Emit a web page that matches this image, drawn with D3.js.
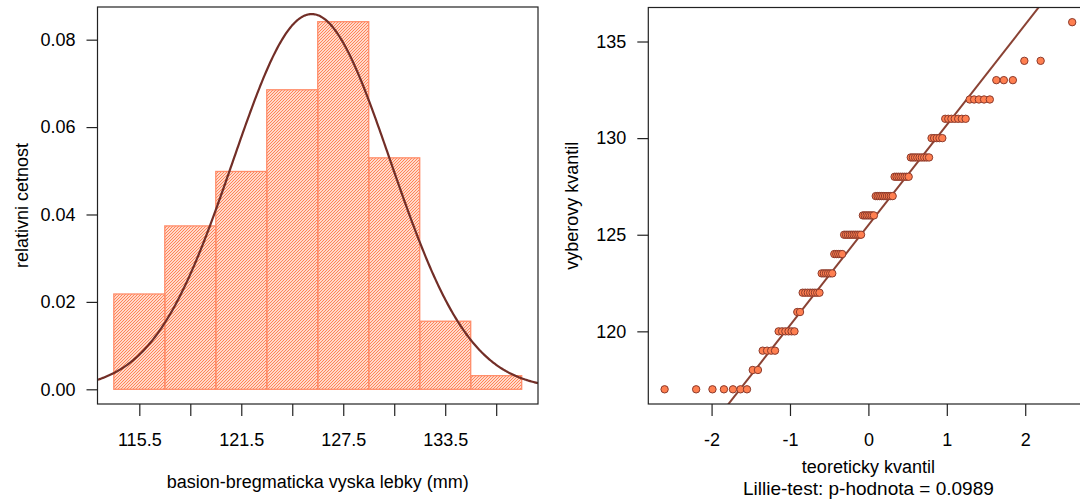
<!DOCTYPE html>
<html>
<head>
<meta charset="utf-8">
<script src="https://cdn.jsdelivr.net/npm/d3@7"></script>
<style>
  html, body { margin: 0; padding: 0; background: #ffffff; }
  svg { display: block; }
  text { font-family: "Liberation Sans", Arial, sans-serif; fill: #000; }
</style>
</head>
<body>
<svg id="chart" width="1080" height="499"></svg>
<script>
// ---------------- data ----------------
const skullValues = [117,118,119,120,121,122,123,124,125,126,127,128,129,130,131,132,133,134,135,136];
const skullCounts = [7,  2,  4,  6,  2,  8,  6,  5,  10, 7,  10, 8,  9,  5,  7,  5,  3,  2,  0,  1];
const histBreaks = [114,117,120,123,126,129,132,135,138];
const histTicks = [115.5,118.5,121.5,124.5,127.5,130.5,133.5,136.5];
const histTickLabels = ["115.5","","121.5","","127.5","","133.5",""];
const densityTicks = [0,0.02,0.04,0.06,0.08];
const qqXTicks = [-2,-1,0,1,2];
const qqYTicks = [120,125,130,135];
const histXLabel = "basion-bregmaticka vyska lebky (mm)";
const histYLabel = "relativni cetnost";
const qqXLabel = "teoreticky kvantil";
const qqYLabel = "vyberovy kvantil";
const qqSubLabel = "Lillie-test: p-hodnota = 0.0989";

// ---------------- helpers ----------------
const sample = [];
skullValues.forEach((v, i) => { for (let k = 0; k < skullCounts[i]; k++) sample.push(v); });
const n = sample.length;
const mean = d3.mean(sample);
const sd = d3.deviation(sample);

function qnorm(p) {
  const a = [-3.969683028665376e+01, 2.209460984245205e+02, -2.759285104469687e+02, 1.383577518672690e+02, -3.066479806614716e+01, 2.506628277459239e+00];
  const b = [-5.447609879822406e+01, 1.615858368580409e+02, -1.556989798598866e+02, 6.680131188771972e+01, -1.328068155288572e+01];
  const c = [-7.784894002430293e-03, -3.223964580411365e-01, -2.400758277161838e+00, -2.549732539343734e+00, 4.374664141464968e+00, 2.938163982698783e+00];
  const d = [7.784695709041462e-03, 3.224671290700398e-01, 2.445134137142996e+00, 3.754408661907416e+00];
  const pl = 0.02425, ph = 1 - pl;
  let q, r;
  if (p < pl) { q = Math.sqrt(-2 * Math.log(p)); return (((((c[0]*q+c[1])*q+c[2])*q+c[3])*q+c[4])*q+c[5]) / ((((d[0]*q+d[1])*q+d[2])*q+d[3])*q+1); }
  if (p <= ph) { q = p - 0.5; r = q*q; return (((((a[0]*r+a[1])*r+a[2])*r+a[3])*r+a[4])*r+a[5])*q / (((((b[0]*r+b[1])*r+b[2])*r+b[3])*r+b[4])*r+1); }
  q = Math.sqrt(-2 * Math.log(1 - p)); return -(((((c[0]*q+c[1])*q+c[2])*q+c[3])*q+c[4])*q+c[5]) / ((((d[0]*q+d[1])*q+d[2])*q+d[3])*q+1);
}
function extend(lo, hi) { const e = (hi - lo) * 0.04; return [lo - e, hi + e]; }

const svg = d3.select("#chart");
const FS = 18;

// ---------------- histogram panel ----------------
const L = { x0: 97.5, x1: 538, y0: 7, y1: 404 };
const bins = d3.range(histBreaks.length - 1).map(i => {
  const lo = histBreaks[i], hi = histBreaks[i + 1];
  const cnt = sample.filter(v => v > lo && v <= hi).length;
  return { lo, hi, dens: cnt / (n * (hi - lo)) };
});
const maxDens = d3.max(bins, b => b.dens);
const hx = d3.scaleLinear().domain(extend(histBreaks[0], histBreaks[histBreaks.length - 1])).range([L.x0, L.x1]);
const hy = d3.scaleLinear().domain(extend(0, maxDens)).range([L.y1, L.y0]);

const defs = svg.append("defs");
const pat = defs.append("pattern").attr("id", "hatch").attr("patternUnits", "userSpaceOnUse")
  .attr("width", 3).attr("height", 3);
pat.append("path").attr("d", "M0,3 L3,0 M-1,1 L1,-1 M2,4 L4,2")
  .attr("stroke", "#ff7f50").attr("stroke-width", 1.15).attr("fill", "none");
defs.append("clipPath").attr("id", "clipL").append("rect")
  .attr("x", L.x0).attr("y", L.y0).attr("width", L.x1 - L.x0).attr("height", L.y1 - L.y0);

const gL = svg.append("g");
gL.append("g").selectAll("rect").data(bins).join("rect")
  .attr("x", d => hx(d.lo)).attr("y", d => hy(d.dens))
  .attr("width", d => hx(d.hi) - hx(d.lo)).attr("height", d => hy(0) - hy(d.dens))
  .attr("fill", "url(#hatch)").attr("stroke", "#ff8c69").attr("stroke-width", 1.3);

const curvePts = d3.range(0, 401).map(i => {
  const xv = hx.domain()[0] + (hx.domain()[1] - hx.domain()[0]) * i / 400;
  const z = (xv - mean) / sd;
  return [xv, Math.exp(-0.5 * z * z) / (sd * Math.sqrt(2 * Math.PI))];
});
gL.append("path").datum(curvePts).attr("clip-path", "url(#clipL)")
  .attr("d", d3.line().x(d => hx(d[0])).y(d => hy(d[1])))
  .attr("fill", "none").attr("stroke", "#722e27").attr("stroke-width", 2.2);

gL.append("rect").attr("x", L.x0).attr("y", L.y0).attr("width", L.x1 - L.x0).attr("height", L.y1 - L.y0)
  .attr("fill", "none").attr("stroke", "#222").attr("stroke-width", 1.2);

const hyph = s => String(s).replace("\u2212", "-");
gL.append("g").attr("transform", `translate(0,${L.y1})`)
  .call(d3.axisBottom(hx).tickValues(histTicks).tickFormat((d, i) => histTickLabels[i]).tickSize(12).tickPadding(17));
gL.append("g").attr("transform", `translate(${L.x0},0)`)
  .call(d3.axisLeft(hy).tickValues(densityTicks).tickFormat(d3.format(".2f")).tickSize(11).tickPadding(11));
gL.append("text").attr("x", (L.x0 + L.x1) / 2).attr("y", 488).attr("text-anchor", "middle")
  .attr("font-size", FS).text(histXLabel);
gL.append("text").attr("transform", `translate(28,${(L.y0 + L.y1) / 2}) rotate(-90)`)
  .attr("text-anchor", "middle").attr("font-size", FS).text(histYLabel);

// ---------------- QQ panel ----------------
const R = { x0: 648.3, x1: 1088.5, y0: 7.5, y1: 404 };
const sorted = sample.slice().sort((a, b) => a - b);
const qq = sorted.map((v, i) => ({ t: qnorm((i + 1 - 0.5) / n), v }));
const qx = d3.scaleLinear().domain(extend(qq[0].t, qq[n - 1].t)).range([R.x0, R.x1]);
const qy = d3.scaleLinear().domain(extend(sorted[0], sorted[n - 1])).range([R.y1, R.y0]);

defs.append("clipPath").attr("id", "clipR").append("rect")
  .attr("x", R.x0).attr("y", R.y0).attr("width", R.x1 - R.x0).attr("height", R.y1 - R.y0);

const gR = svg.append("g");
const q1 = d3.quantile(sorted, 0.25), q3 = d3.quantile(sorted, 0.75);
const slope = (q3 - q1) / (qnorm(0.75) - qnorm(0.25));
const intercept = q1 - slope * qnorm(0.25);
const tx = qx.domain();
gR.append("line").attr("clip-path", "url(#clipR)")
  .attr("x1", qx(tx[0] - 1)).attr("y1", qy(intercept + slope * (tx[0] - 1)))
  .attr("x2", qx(tx[1] + 1)).attr("y2", qy(intercept + slope * (tx[1] + 1)))
  .attr("stroke", "#8a4234").attr("stroke-width", 2);

gR.append("g").selectAll("circle").data(qq).join("circle")
  .attr("cx", d => qx(d.t)).attr("cy", d => qy(d.v)).attr("r", 3.7)
  .attr("fill", "#ff7f50").attr("stroke", "#8b3a2c").attr("stroke-width", 1);

gR.append("rect").attr("x", R.x0).attr("y", R.y0).attr("width", R.x1 - R.x0).attr("height", R.y1 - R.y0)
  .attr("fill", "none").attr("stroke", "#222").attr("stroke-width", 1.2);

gR.append("g").attr("transform", `translate(0,${R.y1})`)
  .call(d3.axisBottom(qx).tickValues(qqXTicks).tickFormat(d => hyph(d3.format("d")(d))).tickSize(12).tickPadding(17));
gR.append("g").attr("transform", `translate(${R.x0},0)`)
  .call(d3.axisLeft(qy).tickValues(qqYTicks).tickFormat(d3.format("d")).tickSize(11).tickPadding(11));
gR.append("text").attr("x", (R.x0 + R.x1) / 2).attr("y", 473).attr("text-anchor", "middle")
  .attr("font-size", FS).text(qqXLabel);
gR.append("text").attr("x", (R.x0 + R.x1) / 2).attr("y", 495).attr("text-anchor", "middle")
  .attr("font-size", 19).text(qqSubLabel);
gR.append("text").attr("transform", `translate(577.5,${(R.y0 + R.y1) / 2}) rotate(-90)`)
  .attr("text-anchor", "middle").attr("font-size", FS).text(qqYLabel);

// axis styling
svg.selectAll(".domain").remove();
svg.selectAll(".tick line").attr("stroke", "#222").attr("stroke-width", 1.2);
svg.selectAll(".tick text").attr("font-size", FS).attr("font-family", "Liberation Sans, Arial, sans-serif").attr("fill", "#000");
</script>
</body>
</html>
